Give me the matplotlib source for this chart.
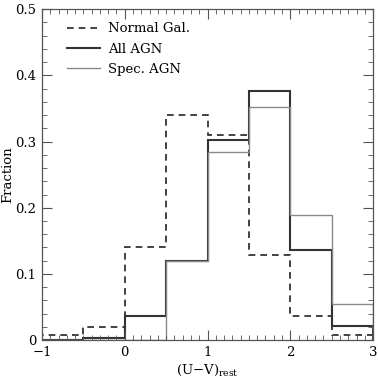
import numpy as np
import matplotlib.pyplot as plt
from matplotlib.ticker import MultipleLocator

plt.rcParams["font.family"] = "DejaVu Serif"

# bin edges in (U-V)_rest
edges = [-1, -0.5, 0, 0.5, 1, 1.5, 2, 2.5, 3]
normal_gal = [0.008, 0.020, 0.140, 0.340, 0.310, 0.128, 0.037, 0.008]
all_agn = [0.0, 0.004, 0.037, 0.120, 0.302, 0.377, 0.136, 0.021]
spec_agn = [0.0, 0.0, 0.0, 0.120, 0.284, 0.352, 0.189, 0.054]

fig = plt.figure(figsize=(3.78, 3.78), dpi=100)
ax = fig.add_axes([0.111, 0.10, 0.876, 0.876])

ax.stairs(normal_gal, edges, color='#222222', linestyle=(0, (4, 3)), linewidth=1.2,
          label='Normal Gal.')
ax.stairs(all_agn, edges, color='#333333', linewidth=1.5, label='All AGN')
ax.stairs(spec_agn, edges, color='#8a8a8a', linewidth=1.0, label='Spec. AGN')

ax.set_xlim(-1, 3)
ax.set_ylim(0, 0.5)
ax.xaxis.set_minor_locator(MultipleLocator(0.1))
ax.yaxis.set_minor_locator(MultipleLocator(0.02))
ax.set_yticks([0, 0.1, 0.2, 0.3, 0.4, 0.5])
ax.set_yticklabels(['0', '0.1', '0.2', '0.3', '0.4', '0.5'])
ax.set_xticks([-1, 0, 1, 2, 3])
ax.set_xticklabels(['\u22121', '0', '1', '2', '3'])
ax.tick_params(which='both', direction='in', top=True, right=True, labelsize=9.5,
               color='#555555')
ax.tick_params(which='major', length=7, width=0.8, pad=4)
ax.tick_params(which='minor', length=3.5, width=0.6)
for s in ax.spines.values():
    s.set_color('#555555')
    s.set_linewidth(0.9)

ax.set_xlabel('(U\u2212V)$_{\\mathregular{rest}}$', fontsize=9.5, labelpad=3)
ax.set_ylabel('Fraction', fontsize=9.5)
ax.yaxis.set_label_coords(-0.083, 0.5)

ax.legend(loc='upper left', bbox_to_anchor=(0.059, 0.976), frameon=False, fontsize=9.5,
          handlelength=2.5, handletextpad=0.6, labelspacing=0.55, borderaxespad=0.0)

plt.savefig('out.png', dpi=100)
